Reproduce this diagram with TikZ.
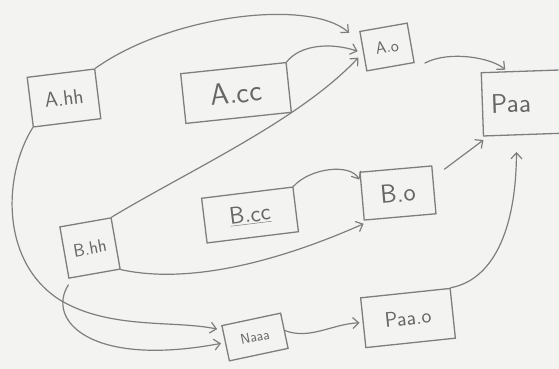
\documentclass[tikz,border=0pt]{standalone}
\usetikzlibrary{arrows.meta}
\definecolor{paper}{HTML}{F3F3F1}
\definecolor{pencil}{HTML}{7E7E7E}
\definecolor{ink}{HTML}{666666}
\newcommand{\fsz}[1]{\sffamily\fontsize{#1}{#1}\selectfont}
\begin{document}
\begin{tikzpicture}[x=1pt,y=-1pt,
  box/.style={draw=pencil, line width=1.3pt, inner sep=0pt, text=ink},
  link/.style={draw=pencil, line width=1.2pt, line cap=round,
    -{Straight Barb[length=6pt,width=11pt,line width=1.2pt]}}]
\fill[paper] (0,0) rectangle (559,369);
\useasboundingbox (0,0) rectangle (559,369);

% files
\node[box, minimum width=68pt, minimum height=50pt, rotate=7, font=\fsz{21}] (Ahh) at (64,98) {A.hh};
\node[box, minimum width=106pt, minimum height=50pt, rotate=6, font=\fsz{30}] (Acc) at (236,93) {A.cc};
\node[box, minimum width=48pt, minimum height=40pt, rotate=10, font=\fsz{17}] (Ao) at (387,47) {A.o};
\node[box, draw=none, minimum width=76pt, minimum height=62pt, rotate=2, font=\fsz{27},
      text width=60pt, align=left, inner xsep=8pt] (Paa) at (521,103) {Paa};
\draw[draw=pencil, line width=1.3pt] (Paa.north east) -- (Paa.north west) -- (Paa.south west) -- (Paa.south east);
\node[box, minimum width=52pt, minimum height=52pt, rotate=10, font=\fsz{18}] (Bhh) at (90,248) {B.hh};
\node[box, minimum width=92pt, minimum height=45pt, rotate=7, font=\fsz{24}] (Bcc) at (250,215) {\underline{B.cc}};
\node[box, minimum width=72pt, minimum height=48pt, rotate=5, font=\fsz{26}] (Bo) at (398,193) {B.o};
\node[box, minimum width=60pt, minimum height=36pt, rotate=12, font=\fsz{14}] (Naaa) at (255,337) {Naaa};
\node[box, minimum width=90pt, minimum height=50pt, rotate=6, font=\fsz{21}] (Paao) at (408,318) {Paa.o};

% connectors
\draw[link] (Ahh.north east) .. controls (170,15) and (310,-2) .. ([xshift=-10pt,yshift=-2pt]Ao.north west);
\draw[link] (Acc.north east) .. controls (300,45) and (330,42) .. ([xshift=-5pt]Ao.west);
\draw[link] (Bhh.north east) .. controls (190,170) and (300,120) .. ([xshift=-8pt,yshift=14pt]Ao.south west);
\draw[link] ([xshift=10pt]Ao.south east) .. controls (450,50) and (492,58) .. ([xshift=24pt,yshift=3pt]Paa.north west);
\draw[link] ([xshift=12pt,yshift=-4pt]Bo.north east) -- ([yshift=-4pt]Paa.south west);
\draw[link] (Paao.north east) .. controls (492,280) and (516,232) .. ([xshift=33pt,yshift=-16pt]Paa.south west);
\draw[link] (Bcc.north east) .. controls (310,168) and (350,163) .. ([yshift=-8pt]Bo.north west);
\draw[link] (Bhh.south east) .. controls (200,287) and (300,252) .. ([yshift=-3pt]Bo.south west);
\draw[link] (Ahh.south west) .. controls (3,175) and (0,262) .. (60,300)
  .. controls (110,330) and (175,320) .. ([xshift=-4pt,yshift=-4pt]Naaa.north west);
\draw[link] ([yshift=-6pt]Bhh.south west) .. controls (46,320) and (90,368) .. ([xshift=-4pt]Naaa.west);
\draw[link] (Naaa.east) .. controls (310,340) and (332,324) .. ([xshift=-3pt]Paao.west);
\end{tikzpicture}
\end{document}
